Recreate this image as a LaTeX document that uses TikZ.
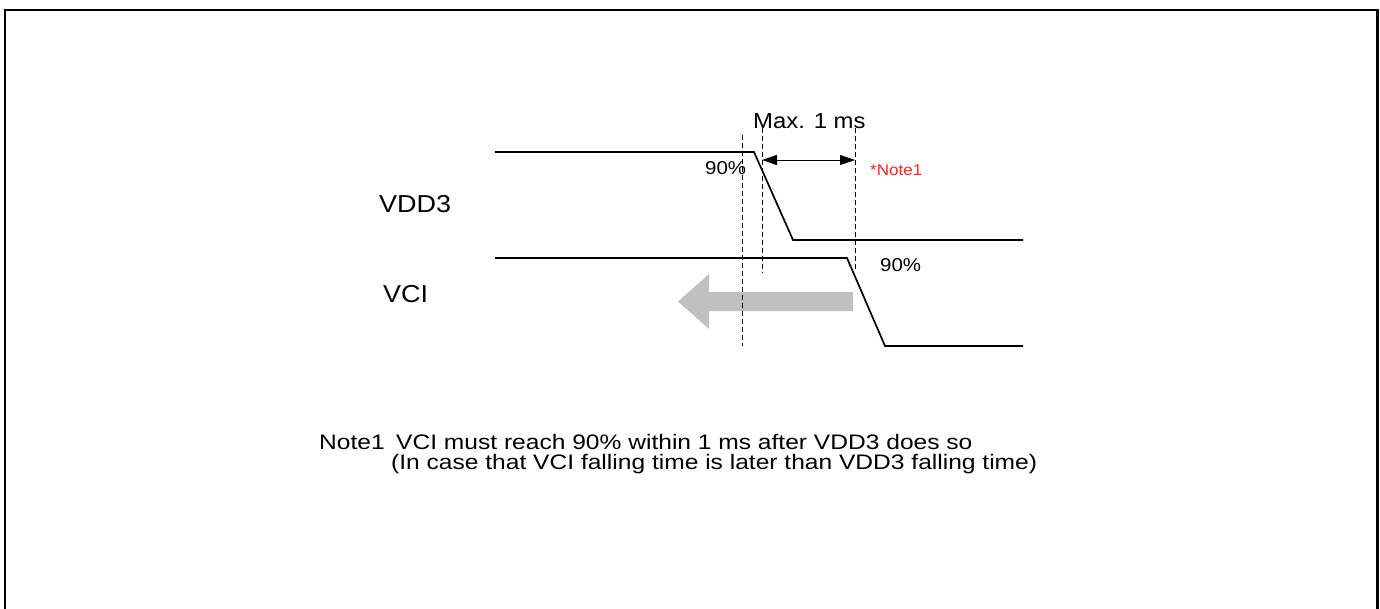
\documentclass[tikz,border=0pt]{standalone}
\usepackage{fontspec}
\setmainfont{Liberation Sans}[FakeStretch=1.1]
\newfontfamily\notefont{Liberation Sans}[FakeStretch=1.17]
\usetikzlibrary{arrows.meta}
\definecolor{arrowgrey}{HTML}{C0C0C0}
\definecolor{notered}{HTML}{FF2020}
\tikzset{
  frameline/.style={line width=2.2pt},
  signal/.style={line width=1.7pt, line join=miter},
  guide/.style={line width=0.9pt, dash pattern=on 5pt off 3pt},
  dimline/.style={line width=0.9pt, {Triangle[length=15pt,width=10pt]}-{Triangle[length=15pt,width=10pt]}},
  lbl/.style={inner sep=0pt, anchor=base west, font=\fontsize{24.5}{26}\selectfont},
  pct/.style={inner sep=0pt, anchor=base west, font=\fontsize{18.6}{20}\selectfont},
  note/.style={inner sep=0pt, anchor=base west, font=\notefont\fontsize{21}{20}\selectfont},
}
\begin{document}
\begin{tikzpicture}[x=1pt,y=-1pt]
\useasboundingbox (0,0) rectangle (1380,608);
% frame (open at the bottom)
\draw[frameline] (5,612) -- (5,10) -- (1377.5,10) -- (1377.5,612);

% grey arrow
\fill[arrowgrey] (853,292) -- (709,292) -- (709,274) -- (678,301.5) -- (709,329) -- (709,311) -- (853,311) -- cycle;

% VDD3 waveform
\coordinate (v1) at (495,152);
\coordinate (v2) at (754,152);
\coordinate (v3) at (793,240);
\coordinate (v4) at (1023,240);
\draw[signal] (v1) -- (v2) -- (v3) -- (v4);

% VCI waveform
\coordinate (c1) at (495,258);
\coordinate (c2) at (847,258);
\coordinate (c3) at (885,346);
\coordinate (c4) at (1023,346);
\draw[signal] (c1) -- (c2) -- (c3) -- (c4);

% dashed guides
\coordinate (d1t) at (742,135); \coordinate (d1b) at (742,346);
\coordinate (d2t) at (762,128); \coordinate (d2b) at (762,273);
\coordinate (d3t) at (855,128); \coordinate (d3b) at (855,270);
\draw[guide] (d1t) -- (d1b);
\draw[guide] (d2t) -- (d2b);
\draw[guide] (d3t) -- (d3b);

% dimension arrow
\coordinate (a1) at (762,160);
\coordinate (a2) at (855,160);
\draw[dimline] (a1) -- (a2);

% texts
\node[inner sep=0pt, anchor=base west, font=\fontsize{21.7}{23}\selectfont] (max) at (753,128) {Max. 1 ms};
\node[pct] (p1) at (705,174) {90\%};
\node[pct] (p2) at (880,271) {90\%};
\node[inner sep=0pt, anchor=base west, text=notered, font=\fontsize{15.5}{17}\selectfont] (n1) at (870,175) {*Note1};
\node[lbl] (lvdd) at (379,212) {VDD3};
\node[lbl] (lvci) at (383,302) {VCI};
\node[note] (nt) at (319,449) {Note1};
\node[note, align=left] (nl) at (391,469) {\hspace*{5pt}VCI must reach 90\% within 1 ms after VDD3 does so\\(In case that VCI falling time is later than VDD3 falling time)};
\end{tikzpicture}
\end{document}
